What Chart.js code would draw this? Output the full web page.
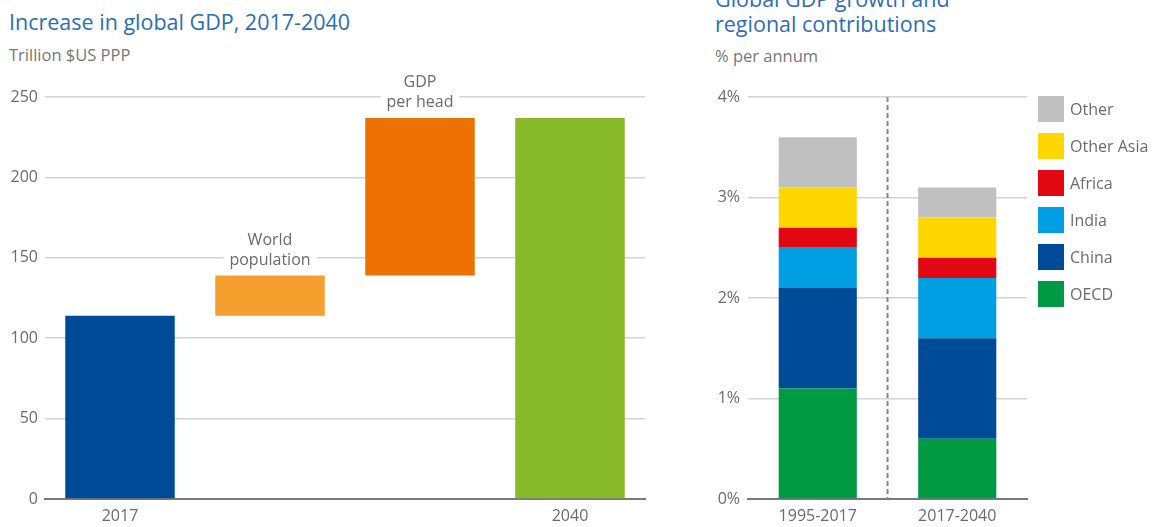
<!DOCTYPE html>
<html>
<head>
<meta charset="utf-8">
<script src="https://cdn.jsdelivr.net/npm/chart.js@4"></script>
<style>
  body { margin: 0; background: #fff; width: 1160px; height: 527px; overflow: hidden; position: relative; font-family: 'Open Sans', sans-serif; }
  .txt { position: absolute; line-height: 1; white-space: nowrap; }
  .title { color: #2d6db5; font-size: 21.5px; font-weight: 500; }
  .sub { color: #777; font-size: 16.5px; }
  canvas { position: absolute; top: 0; }
  #legend { position: absolute; left: 1038px; top: 96px; }
  .item { display: flex; align-items: center; height: 26px; margin-bottom: 11px; color: #6b6b6b; font-size: 16px; }
  .sw { width: 26px; height: 26px; margin-right: 6px; }
</style>
</head>
<body>
<div class="txt title" style="left:9px; top:11px;">Increase in global GDP, 2017-2040</div>
<div class="txt sub" style="left:9px; top:47px;">Trillion $US PPP</div>
<div class="txt title" style="left:715px; top:-12px;">Global GDP growth and</div>
<div class="txt title" style="left:715px; top:13px;">regional contributions</div>
<div class="txt sub" style="left:715px; top:48px;">% per annum</div>

<canvas id="gdp" width="660" height="527" style="left:0"></canvas>
<canvas id="growth" width="500" height="527" style="left:660px"></canvas>
<div id="legend"></div>

<script>
// ─── Data ─────────────────────────────────────────────
const stepLabels = ['2017', '', '', '2040'];
const stepStart  = [0, 114, 139, 0];
const stepEnd    = [114, 139, 237, 237];
const stepColors = ['#004b97', '#f5a02e', '#ee7203', '#88b928'];
const stepNotes  = [[], ['World', 'population'], ['GDP', 'per head'], []];

const periods   = ['1995-2017', '2017-2040'];
const regions   = ['OECD', 'China', 'India', 'Africa', 'Other Asia', 'Other'];
const regionColors = ['#009a44', '#004b97', '#009fe3', '#e30613', '#ffd700', '#c0c0c0'];
const oecd      = [1.1, 0.6];
const china     = [1.0, 1.0];
const india     = [0.4, 0.6];
const africa    = [0.2, 0.2];
const otherAsia = [0.4, 0.4];
const other     = [0.5, 0.3];

const gdpTicks    = [0, 50, 100, 150, 200, 250];
const growthTicks = [0, 1, 2, 3, 4];

Chart.defaults.font.family = "'Open Sans', sans-serif";
Chart.defaults.font.size = 16;
Chart.defaults.color = '#6b6b6b';

const gridColor = ctx => (ctx.tick && ctx.tick.value === 0) ? 'rgba(0,0,0,0)' : '#d3d3d3';

// ─── Bar notes (white boxed labels above bars) ────────
const notesPlugin = {
    id: 'notes',
    afterDatasetsDraw(chart) {
        const ctx = chart.ctx;
        const meta = chart.getDatasetMeta(0);
        ctx.save();
        ctx.font = "16px 'Open Sans', sans-serif";
        ctx.textAlign = 'center';
        ctx.textBaseline = 'middle';
        meta.data.forEach((bar, i) => {
            const lines = stepNotes[i];
            if (!lines.length) return;
            const lineH = 20;
            const lastY = bar.y - 15;
            const firstY = lastY - lineH * (lines.length - 1);
            const w = Math.max(...lines.map(l => ctx.measureText(l).width)) + 12;
            ctx.fillStyle = '#fff';
            ctx.fillRect(bar.x - w / 2, firstY - 11, w, lastY - firstY + 22);
            ctx.fillStyle = '#6b6b6b';
            lines.forEach((l, k) => ctx.fillText(l, bar.x, firstY + k * lineH));
        });
        ctx.restore();
    }
};

// ─── Left chart: waterfall ────────────────────────────
new Chart(document.getElementById('gdp'), {
    type: 'bar',
    data: {
        labels: stepLabels,
        datasets: [{
            data: stepStart.map((s, i) => [s, stepEnd[i]]),
            backgroundColor: stepColors,
            borderWidth: 0,
            borderSkipped: false,
            barPercentage: 0.73,
            categoryPercentage: 1,
        }],
    },
    options: {
        responsive: false,
        animation: false,
        layout: { padding: { top: 97, right: 15, left: 0, bottom: 0 } },
        plugins: { legend: { display: false }, tooltip: { enabled: false } },
        scales: {
            x: {
                grid: { display: false, drawTicks: false },
                border: { color: '#7a7a7a', width: 2 },
                ticks: { padding: 8, maxRotation: 0 },
                afterFit: s => { s.height = 28; },
            },
            y: {
                min: 0, max: 250,
                afterBuildTicks: s => { s.ticks = gdpTicks.map(v => ({ value: v })); },
                grid: { color: gridColor, lineWidth: 1.5, drawTicks: false },
                border: { display: false },
                ticks: { padding: 7 },
                afterFit: s => { s.width = 45; },
            },
        },
    },
    plugins: [notesPlugin],
});

// ─── Right chart: stacked contributions ───────────────
const dividerPlugin = {
    id: 'divider',
    beforeDatasetsDraw(chart) {
        const { ctx, chartArea, scales } = chart;
        const x = (scales.x.getPixelForValue(0) + scales.x.getPixelForValue(1)) / 2;
        ctx.save();
        ctx.strokeStyle = '#8a8a8a';
        ctx.lineWidth = 2;
        ctx.setLineDash([5, 3]);
        ctx.beginPath();
        ctx.moveTo(x, chartArea.top);
        ctx.lineTo(x, chartArea.bottom);
        ctx.stroke();
        ctx.restore();
    }
};

const regionValues = [oecd, china, india, africa, otherAsia, other];

new Chart(document.getElementById('growth'), {
    type: 'bar',
    data: {
        labels: periods,
        datasets: regions.map((r, i) => ({
            label: r,
            data: regionValues[i],
            backgroundColor: regionColors[i],
            borderWidth: 0,
            barPercentage: 0.56,
            categoryPercentage: 1,
        })),
    },
    options: {
        responsive: false,
        animation: false,
        layout: { padding: { top: 97, right: 133, left: 0, bottom: 0 } },
        plugins: { legend: { display: false }, tooltip: { enabled: false } },
        scales: {
            x: {
                stacked: true,
                grid: { display: false, drawTicks: false },
                border: { color: '#7a7a7a', width: 2 },
                ticks: { padding: 8, maxRotation: 0 },
                afterFit: s => { s.height = 28; },
            },
            y: {
                stacked: true,
                min: 0, max: 4,
                afterBuildTicks: s => { s.ticks = growthTicks.map(v => ({ value: v })); },
                grid: { color: gridColor, lineWidth: 1.5, drawTicks: false },
                border: { display: false },
                ticks: { padding: 8, callback: v => v + '%' },
                afterFit: s => { s.width = 88; },
            },
        },
    },
    plugins: [dividerPlugin],
});

// ─── Legend ───────────────────────────────────────────
const legendEl = document.getElementById('legend');
regions.slice().reverse().forEach((r, k) => {
    const i = regions.length - 1 - k;
    const item = document.createElement('div');
    item.className = 'item';
    item.innerHTML = `<span class="sw" style="background:${regionColors[i]}"></span>${r}`;
    legendEl.appendChild(item);
});
</script>
</body>
</html>
